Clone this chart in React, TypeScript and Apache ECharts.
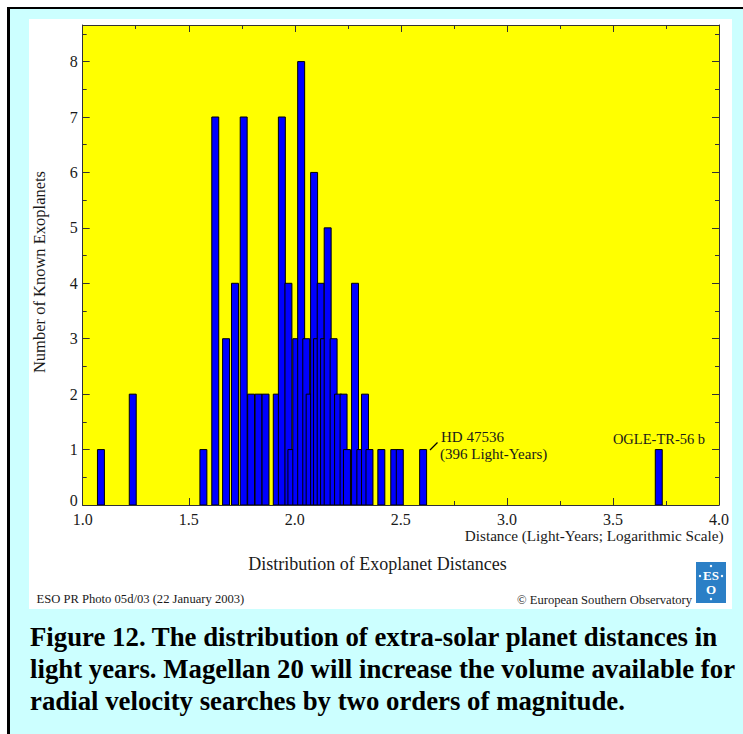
import React, { useEffect, useRef } from "react";
import * as echarts from "echarts";

// log10(distance in light-years) at the centre of each histogram bar, drawn in this order
const binCenters = [
  1.086, 1.236, 1.569, 1.625, 1.676, 1.718, 1.759, 1.794, 1.829, 1.862,
  1.915, 1.939, 1.97, 1.984, 2.007, 2.03, 2.054, 2.07, 2.091, 2.105,
  2.122, 2.138, 2.155, 2.183, 2.204, 2.23, 2.246, 2.284, 2.309, 2.331,
  2.352, 2.408, 2.469, 2.495, 2.605, 3.716,
];
// number of known exoplanets in each bar
const planetCounts = [
  1, 2, 1, 7, 3, 4, 7, 2, 2, 2,
  2, 7, 4, 1, 3, 8, 3, 2, 6, 3,
  4, 3, 5, 3, 2, 2, 1, 4, 1, 2,
  1, 1, 1, 1, 1, 1,
];
const xTickLabels = ["1.0", "1.5", "2.0", "2.5", "3.0", "3.5", "4.0"];
const yTickLabels = ["0", "1", "2", "3", "4", "5", "6", "7", "8"];

const X_MIN = 1;
const X_MAX = 4;
const Y_MAX = 8.66;
const BAR_WIDTH = 0.0328;

const SERIF = "'Liberation Serif', 'Times New Roman', serif";
const AXIS_COLOR = "#333";
const TEXT_COLOR = "#1a1a1a";

// chart div offset on the page
const OX = 29;
const OY = 19;

function buildOption() {
  const tickLabel = (v: number) => {
    const s = v.toFixed(1);
    return xTickLabels.includes(s) ? s : "";
  };
  const yLabel = (v: number) => {
    const s = String(v);
    if (!yTickLabels.includes(s)) return "";
    return v === 0 ? "{z|" + s + "}" : "{n|" + s + "}";
  };
  const xBase = {
    type: "value",
    min: X_MIN,
    max: X_MAX,
    interval: 0.5,
    splitLine: { show: false },
    axisLine: { show: true, onZero: false, lineStyle: { color: AXIS_COLOR, width: 1 } },
    axisTick: { show: true, inside: true, length: 7, lineStyle: { color: AXIS_COLOR } },
    minorTick: { show: true, splitNumber: 2, length: 4, lineStyle: { color: AXIS_COLOR } },
  };
  const yBase = {
    type: "value",
    min: 0,
    max: Y_MAX,
    splitLine: { show: false },
  };
  const yMajor = {
    ...yBase,
    interval: 1,
    axisLine: { show: true, onZero: false, lineStyle: { color: AXIS_COLOR, width: 1 } },
    axisTick: { show: true, inside: true, length: 7, lineStyle: { color: AXIS_COLOR } },
  };
  const yMinor = {
    ...yBase,
    interval: 0.5,
    axisLine: { show: false },
    axisTick: { show: true, inside: true, length: 4, lineStyle: { color: AXIS_COLOR } },
    axisLabel: { show: false },
  };

  const data = binCenters.map((c, i) => [c, planetCounts[i]]);

  return {
    animation: false,
    backgroundColor: "#ffffff",
    grid: {
      left: 82.7 - OX,
      top: 25 - OY,
      width: 640,
      height: 480,
      show: true,
      backgroundColor: "#ffff00",
      borderWidth: 0,
    },
    xAxis: [
      {
        ...xBase,
        position: "bottom",
        axisLabel: {
          formatter: tickLabel,
          margin: 6,
          fontFamily: SERIF,
          fontSize: 16,
          color: TEXT_COLOR,
          showMinLabel: true,
          showMaxLabel: true,
        },
      },
      {
        ...xBase,
        position: "top",
        axisLabel: { show: false },
      },
    ],
    yAxis: [
      {
        ...yMajor,
        position: "left",
        axisLabel: {
          formatter: yLabel,
          margin: 5,
          fontFamily: SERIF,
          fontSize: 16,
          color: TEXT_COLOR,
          rich: {
            z: { fontFamily: SERIF, fontSize: 16, color: TEXT_COLOR, padding: [0, 0, 10, 0] },
            n: { fontFamily: SERIF, fontSize: 16, color: TEXT_COLOR },
          },
        },
      },
      { ...yMinor, position: "left" },
      { ...yMajor, position: "right", axisLabel: { show: false } },
      { ...yMinor, position: "right" },
    ],
    series: [
      {
        type: "custom",
        xAxisIndex: 0,
        yAxisIndex: 0,
        clip: true,
        encode: { x: 0, y: 1 },
        data,
        renderItem: (params: any, api: any) => {
          const x = api.value(0);
          const h = api.value(1);
          const p0 = api.coord([x - BAR_WIDTH / 2, h]);
          const p1 = api.coord([x + BAR_WIDTH / 2, 0]);
          return {
            type: "rect",
            shape: { x: p0[0], y: p0[1], width: p1[0] - p0[0], height: p1[1] - p0[1] },
            style: { fill: "#0000ff", stroke: "#000000", lineWidth: 1 },
          };
        },
      },
    ],
    graphic: [
      {
        type: "text",
        x: 39.5 - OX,
        y: 272 - OY,
        rotation: Math.PI / 2,
        style: {
          text: "Number of Known Exoplanets",
          align: "center",
          verticalAlign: "middle",
          fontFamily: SERIF,
          fontSize: 16.5,
          fill: TEXT_COLOR,
        },
      },
      {
        type: "text",
        x: 723.5 - OX,
        y: 535 - OY,
        style: {
          text: "Distance (Light-Years; Logarithmic Scale)",
          align: "right",
          verticalAlign: "middle",
          fontFamily: SERIF,
          fontSize: 15.2,
          fill: TEXT_COLOR,
        },
      },
      {
        type: "text",
        x: 377.5 - OX,
        y: 564 - OY,
        style: {
          text: "Distribution of Exoplanet Distances",
          align: "center",
          verticalAlign: "middle",
          fontFamily: SERIF,
          fontSize: 18,
          fill: TEXT_COLOR,
        },
      },
      {
        type: "text",
        x: 36.5 - OX,
        y: 599 - OY,
        style: {
          text: "ESO PR Photo 05d/03 (22 January 2003)",
          align: "left",
          verticalAlign: "middle",
          fontFamily: SERIF,
          fontSize: 12.6,
          fill: TEXT_COLOR,
        },
      },
      {
        type: "text",
        x: 692 - OX,
        y: 600 - OY,
        style: {
          text: "\u00A9 European Southern Observatory",
          align: "right",
          verticalAlign: "middle",
          fontFamily: SERIF,
          fontSize: 12.6,
          fill: TEXT_COLOR,
        },
      },
      {
        type: "text",
        x: 441 - OX,
        y: 437 - OY,
        style: {
          text: "HD 47536",
          align: "left",
          verticalAlign: "middle",
          fontFamily: SERIF,
          fontSize: 15,
          fill: TEXT_COLOR,
        },
      },
      {
        type: "text",
        x: 440 - OX,
        y: 454 - OY,
        style: {
          text: "(396 Light-Years)",
          align: "left",
          verticalAlign: "middle",
          fontFamily: SERIF,
          fontSize: 15,
          fill: TEXT_COLOR,
        },
      },
      {
        type: "line",
        shape: { x1: 430 - OX, y1: 450 - OY, x2: 437.5 - OX, y2: 442.5 - OY },
        style: { stroke: "#000", lineWidth: 1.3 },
      },
      {
        type: "text",
        x: 659 - OX,
        y: 438.5 - OY,
        style: {
          text: "OGLE-TR-56 b",
          align: "center",
          verticalAlign: "middle",
          fontFamily: SERIF,
          fontSize: 14.5,
          fill: TEXT_COLOR,
        },
      },
      // ESO logo
      {
        type: "group",
        x: 696 - OX,
        y: 562 - OY,
        children: [
          { type: "rect", shape: { x: 0, y: 0, width: 30, height: 41 }, style: { fill: "#2b7fc6" } },
          {
            type: "text",
            x: 15,
            y: 13,
            style: {
              text: "ES",
              align: "center",
              verticalAlign: "middle",
              fontFamily: SERIF,
              fontWeight: "bold",
              fontSize: 13,
              fill: "#ffffff",
            },
          },
          {
            type: "text",
            x: 15,
            y: 27,
            style: {
              text: "O",
              align: "center",
              verticalAlign: "middle",
              fontFamily: SERIF,
              fontWeight: "bold",
              fontSize: 13,
              fill: "#ffffff",
            },
          },
          { type: "circle", shape: { cx: 15, cy: 4, r: 1.2 }, style: { fill: "#ffffff" } },
          { type: "circle", shape: { cx: 4, cy: 14, r: 1.2 }, style: { fill: "#ffffff" } },
          { type: "circle", shape: { cx: 26, cy: 14, r: 1.2 }, style: { fill: "#ffffff" } },
          { type: "circle", shape: { cx: 15, cy: 37, r: 1.2 }, style: { fill: "#ffffff" } },
        ],
      },
    ],
  };
}

export default function App() {
  const ref = useRef<HTMLDivElement>(null);
  useEffect(() => {
    if (!ref.current) return;
    const chart = echarts.init(ref.current, null, { renderer: "svg" });
    chart.setOption(buildOption() as any);
    return () => chart.dispose();
  }, []);

  return (
    <div
      style={{
        position: "fixed",
        left: 0,
        top: 0,
        width: 743,
        height: 734,
        overflow: "hidden",
        background: "#ffffff",
      }}
    >
      <div
        style={{
          position: "absolute",
          left: 7,
          top: 7,
          width: 780,
          height: 780,
          boxSizing: "border-box",
          background: "#ccffff",
          borderLeft: "3px solid #000",
          borderTop: "2px solid #000",
        }}
      />
      <div
        ref={ref}
        style={{ position: "absolute", left: OX, top: OY, width: 703, height: 590 }}
      />
      <div
        style={{
          position: "absolute",
          left: 30,
          top: 622,
          width: 713,
          whiteSpace: "nowrap",
          fontFamily: SERIF,
          fontWeight: "bold",
          fontSize: 26.8,
          lineHeight: "31.75px",
          color: "#000",
        }}
      >
        Figure 12. The distribution of extra-solar planet distances in
        <br />
        light years. Magellan 20 will increase the volume available for
        <br />
        radial velocity searches by two orders of magnitude.
      </div>
    </div>
  );
}
